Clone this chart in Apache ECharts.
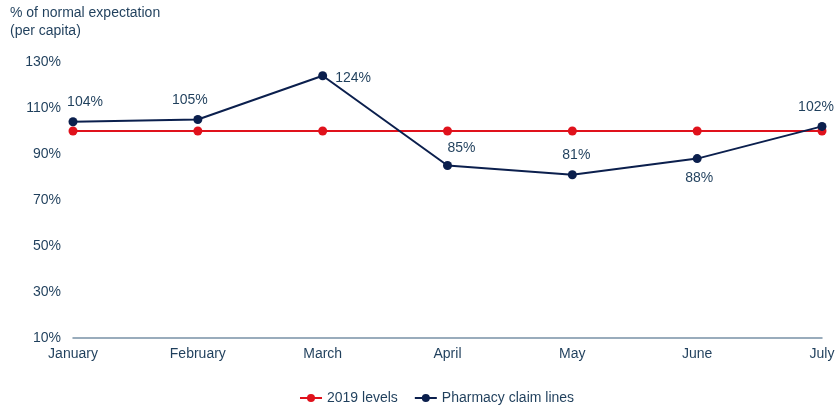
<!DOCTYPE html>
<html>
<head>
<meta charset="utf-8">
<script src="https://cdn.jsdelivr.net/npm/echarts@6/dist/echarts.min.js"></script>
<style>
  html, body { margin: 0; padding: 0; background: #fff; }
  #main { width: 838px; height: 414px; }
</style>
</head>
<body>
<div id="main"></div>
<script>
var months = ['January', 'February', 'March', 'April', 'May', 'June', 'July'];
var levels2019 = [100, 100, 100, 100, 100, 100, 100];
var pharmacyClaims = [104, 105, 124, 85, 81, 88, 102];
// label position for each pharmacy point
var labelPos = ['top', 'top', 'right', 'top', 'top', 'bottom', 'top'];
var labelOffset = [[12, 0], [-8, 0], [0, 2], [14, 2], [4, 0], [2, 0], [-6, 0]];

var textColor = '#1f3f5c';
var font = 'Liberation Sans, Arial';
var myChart = echarts.init(document.getElementById('main'));

var pharmacyData = pharmacyClaims.map(function (v, i) {
    return { value: v, label: { position: labelPos[i], offset: labelOffset[i] } };
});

var option = {
    animation: false,
    title: {
        text: '% of normal expectation\n(per capita)',
        left: 10,
        top: 4,
        padding: 0,
        textStyle: { color: textColor, fontSize: 14, fontWeight: 'normal', fontFamily: font, lineHeight: 18 }
    },
    legend: {
        bottom: 4,
        left: 294,
        itemWidth: 22,
        itemHeight: 10,
        itemGap: 16,
        textStyle: { color: textColor, fontSize: 14, fontFamily: font },
        data: ['2019 levels', 'Pharmacy claim lines']
    },
    grid: { left: 73, right: 16, top: 62, bottom: 76, containLabel: false },
    xAxis: {
        type: 'category',
        data: months,
        boundaryGap: false,
        axisLine: { lineStyle: { color: '#7891a6', width: 1.5 } },
        axisTick: { show: false },
        axisLabel: { color: textColor, fontSize: 14, fontFamily: font, margin: 9 }
    },
    yAxis: {
        type: 'value',
        min: 10,
        max: 130,
        interval: 20,
        axisLine: { show: false },
        axisTick: { show: false },
        splitLine: { show: false },
        axisLabel: { color: textColor, fontSize: 14, fontFamily: font, margin: 12, formatter: '{value}%' }
    },
    series: [
        {
            name: '2019 levels',
            type: 'line',
            data: levels2019,
            symbol: 'circle',
            symbolSize: 9,
            itemStyle: { color: '#e0121c' },
            lineStyle: { color: '#e0121c', width: 2 },
            z: 2
        },
        {
            name: 'Pharmacy claim lines',
            type: 'line',
            data: pharmacyData,
            symbol: 'circle',
            symbolSize: 9,
            itemStyle: { color: '#0b1f4d' },
            lineStyle: { color: '#0b1f4d', width: 2 },
            label: {
                show: true,
                color: textColor,
                fontSize: 14,
                fontFamily: font,
                distance: 8,
                formatter: '{c}%'
            },
            z: 3
        }
    ]
};
myChart.setOption(option);
</script>
</body>
</html>
